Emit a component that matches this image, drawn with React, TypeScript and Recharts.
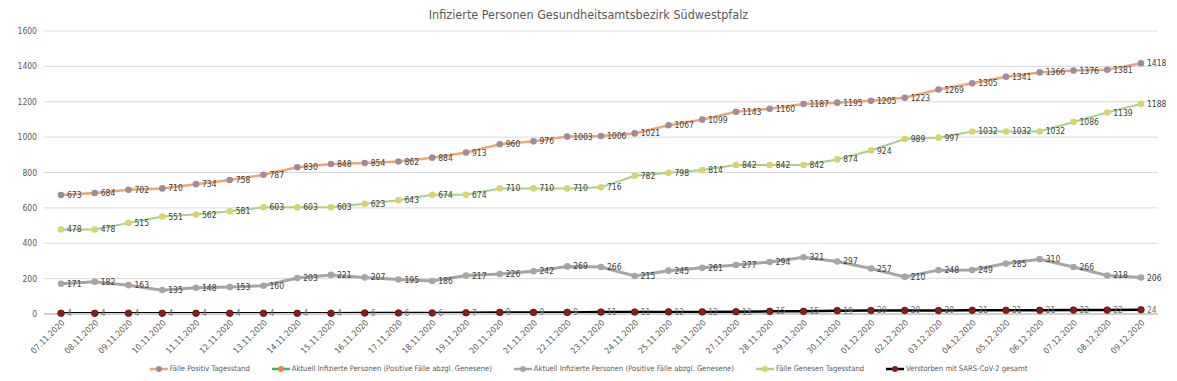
import { CartesianGrid, LabelList, Line, LineChart, XAxis, YAxis } from "recharts";

const dates = [
  "07.11.2020", "08.11.2020", "09.11.2020", "10.11.2020", "11.11.2020", "12.11.2020", "13.11.2020",
  "14.11.2020", "15.11.2020", "16.11.2020", "17.11.2020", "18.11.2020", "19.11.2020", "20.11.2020",
  "21.11.2020", "22.11.2020", "23.11.2020", "24.11.2020", "25.11.2020", "26.11.2020", "27.11.2020",
  "28.11.2020", "29.11.2020", "30.11.2020", "01.12.2020", "02.12.2020", "03.12.2020", "04.12.2020",
  "05.12.2020", "06.12.2020", "07.12.2020", "08.12.2020", "09.12.2020",
];

const positiv = [
  673, 684, 702, 710, 734, 758, 787, 830, 848, 854, 862, 884, 913, 960, 976, 1003, 1006,
  1021, 1067, 1099, 1143, 1160, 1187, 1195, 1205, 1223, 1269, 1305, 1341, 1366, 1376, 1381, 1418,
];

const aktuell = [
  171, 182, 163, 135, 148, 153, 160, 203, 221, 207, 195, 186, 217, 226, 242, 269, 266,
  215, 245, 261, 277, 294, 321, 297, 257, 210, 248, 249, 285, 310, 266, 218, 206,
];

const genesen = [
  478, 478, 515, 551, 562, 581, 603, 603, 603, 623, 643, 674, 674, 710, 710, 710, 716,
  782, 798, 814, 842, 842, 842, 874, 924, 989, 997, 1032, 1032, 1032, 1086, 1139, 1188,
];

const verstorben = [
  4, 4, 4, 4, 4, 4, 4, 4, 4, 6, 6, 6, 7, 9, 9, 9, 11,
  11, 12, 12, 13, 15, 15, 19, 20, 20, 20, 21, 21, 21, 22, 22, 24,
];

const yTicks = [0, 200, 400, 600, 800, 1000, 1200, 1400, 1600];

const rows = dates.map((date, i) => ({
  date,
  positiv: positiv[i],
  aktuellGruen: null,
  aktuell: aktuell[i],
  genesen: genesen[i],
  verstorben: verstorben[i],
}));

const legendItems = [
  { label: "Fälle Positiv Tagesstand", line: "#F0A574", dot: "#A08C99" },
  { label: "Aktuell Infizierte Personen (Positive Fälle abzgl. Genesene)", line: "#3CB371", dot: "#E8883A" },
  { label: "Aktuell Infizierte Personen (Positive Fälle abzgl. Genesene)", line: "#A5A5A5", dot: "#A5A5A5" },
  { label: "Fälle Genesen Tagesstand", line: "#A9D18E", dot: "#D6D46C" },
  { label: "Verstorben mit SARS-CoV-2 gesamt", line: "#000000", dot: "#8B1C1C" },
];

const font = "'Liberation Sans Narrow', 'DejaVu Sans Condensed', Lato, sans-serif";
const labelStyle = { fontSize: 8.5, fill: "#404040", fontFamily: font };

function ChartLegend() {
  return (
    <div style={{ position: "absolute", top: 364, left: 0, width: 1177, display: "flex", justifyContent: "center", gap: 22, fontFamily: font, fontSize: 7.6, color: "#595959", lineHeight: "10px" }}>
      {legendItems.map((item, i) => (
        <div key={i} style={{ display: "flex", alignItems: "center", gap: 2 }}>
          <svg width={18} height={8}>
            <line x1={0} y1={4} x2={18} y2={4} stroke={item.line} strokeWidth={2.5} />
            <circle cx={9} cy={4} r={3} fill={item.dot} />
          </svg>
          <span>{item.label}</span>
        </div>
      ))}
    </div>
  );
}

export default function App() {
  return (
    <div style={{ position: "relative", width: 1177, height: 381, margin: -8, background: "#fff" }}>
      <div style={{ position: "absolute", top: 7, left: 0, width: 1177, textAlign: "center", fontFamily: font, fontSize: 12.5, color: "#595959" }}>
        Infizierte Personen Gesundheitsamtsbezirk Südwestpfalz
      </div>
      <LineChart width={1177} height={381} data={rows} margin={{ top: 31, right: 19, bottom: 29, left: 0 }}>
        <CartesianGrid vertical={false} stroke="#D9D9D9" />
        <XAxis
          dataKey="date"
          interval={0}
          angle={-45}
          textAnchor="end"
          height={38}
          padding={{ left: 17, right: 17 }}
          tickLine={false}
          tickSize={0}
          tickMargin={5}
          axisLine={{ stroke: "#D0D0D0", strokeWidth: 2 }}
          tick={{ fontSize: 8.5, fill: "#595959", fontFamily: font }}
        />
        <YAxis
          width={44}
          domain={[0, 1600]}
          ticks={yTicks}
          tickLine={false}
          axisLine={false}
          tickSize={0}
          tickMargin={7}
          tick={{ fontSize: 8.5, fill: "#595959", fontFamily: font }}
        />
        <Line dataKey="positiv" stroke="#F0A574" strokeWidth={2.5} dot={{ r: 3.3, fill: "#A08C99", stroke: "none" }} isAnimationActive={false}>
          <LabelList dataKey="positiv" position="right" offset={6} style={labelStyle} />
        </Line>
        <Line dataKey="aktuellGruen" stroke="#3CB371" strokeWidth={2.5} dot={{ r: 3.3, fill: "#E8883A", stroke: "none" }} isAnimationActive={false} />
        <Line dataKey="aktuell" stroke="#A5A5A5" strokeWidth={3} dot={{ r: 3.3, fill: "#A5A5A5", stroke: "none" }} isAnimationActive={false}>
          <LabelList dataKey="aktuell" position="right" offset={6} style={labelStyle} />
        </Line>
        <Line dataKey="genesen" stroke="#A9D18E" strokeWidth={2} dot={{ r: 3.3, fill: "#D6D46C", stroke: "none" }} isAnimationActive={false}>
          <LabelList dataKey="genesen" position="right" offset={6} style={labelStyle} />
        </Line>
        <Line dataKey="verstorben" stroke="#000000" strokeWidth={2.5} dot={{ r: 3.3, fill: "#8B1C1C", stroke: "#5E0E0E", strokeWidth: 0.8 }} isAnimationActive={false}>
          <LabelList dataKey="verstorben" position="right" offset={6} style={{ ...labelStyle, fill: "#707070" }} />
        </Line>
      </LineChart>
      <ChartLegend />
    </div>
  );
}
